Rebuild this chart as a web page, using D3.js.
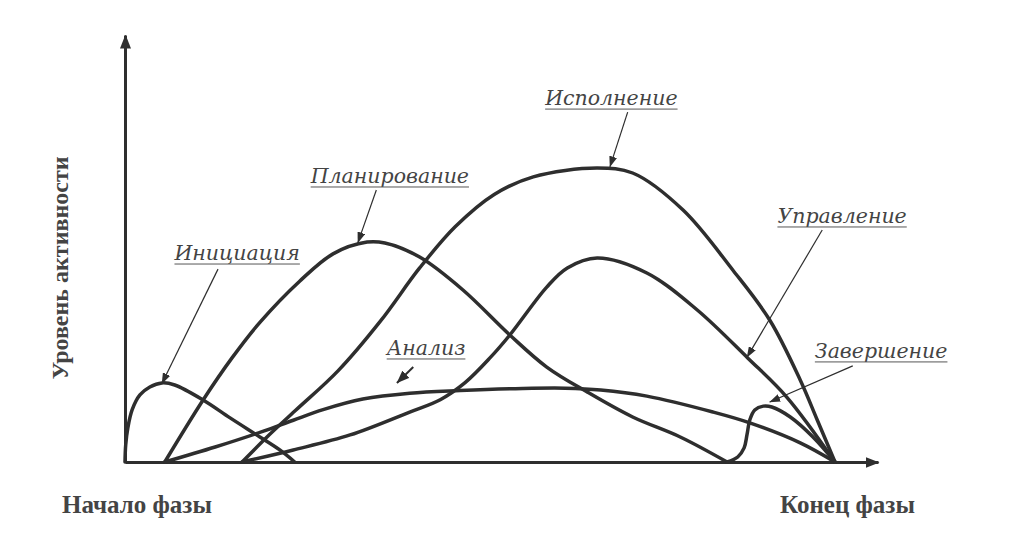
<!DOCTYPE html>
<html>
<head>
<meta charset="utf-8">
<script src="https://cdn.jsdelivr.net/npm/d3@7"></script>
<style>
    html, body { margin: 0; padding: 0; background: #fff; }
    svg { display: block; }
</style>
</head>
<body>
<script>
// Phase names (labels)
const phases = ['Инициация', 'Планирование', 'Анализ', 'Исполнение', 'Управление', 'Завершение'];

// Activity curves: [phase progress %, activity level]
const initiation = [[0, 0], [0.1, 5.8], [0.4, 11.6], [1.0, 17.7], [2.1, 22.8], [3.5, 25.5], [5.2, 26.9],
    [7.0, 26.2], [11.0, 21.1], [14.8, 15.0], [19.0, 8.5], [21.8, 4.1], [23.9, 0]];
const planning = [[5.6, 0], [11.0, 21.1], [15.1, 35.5], [19.0, 47.5], [24.6, 61.5], [29.3, 70.8], [34.1, 74.8],
    [36.6, 74.5], [41.5, 69.7], [47.6, 58.5], [54.2, 43.2], [59.4, 32.3], [65.1, 23.8], [71.5, 15.3], [78.2, 8.5], [84.8, 0]];
const analysis = [[5.6, 0], [12.7, 5.1], [19.4, 10.4], [23.7, 14.2], [27.9, 17.8], [33.5, 21.4], [40.1, 23.4],
    [47.2, 24.3], [56.0, 25.0], [62.0, 25.1], [67.0, 24.5], [73.5, 22.4], [82.8, 17.0], [88.0, 13.3], [95.1, 6.5], [100, 0]];
const execution = [[16.5, 0], [20.0, 8.5], [24.0, 17.5], [30.0, 31.0], [36.0, 48.0], [41.5, 66.0], [46.5, 80.0],
    [52.0, 91.0], [57.5, 97.0], [66.5, 100], [71.5, 98.3], [78.6, 85.7], [85.6, 65.3], [90.8, 48.3], [95.1, 27.9], [97.5, 14.3], [100, 0]];
const control = [[16.5, 0], [23.7, 4.1], [31.7, 9.2], [40.1, 17.0], [44.4, 21.2], [47.9, 27.0], [51.4, 35.4],
    [54.2, 43.2], [59.4, 59.5], [62.3, 66.0], [66.5, 69.4], [73.5, 64.3], [80.6, 51.7], [87.7, 35.4], [93.2, 22.1], [100, 0]];
const closing = [[84.8, 0], [86.3, 1.7], [87.2, 4.8], [87.6, 9.2], [88.0, 14.3], [88.7, 17.7], [89.9, 19.0],
    [91.1, 18.7], [93.7, 15.3], [96.9, 8.5], [100, 0]];

const series = [initiation, planning, analysis, execution, control, closing];

// Axis captions
const yTitle = 'Уровень активности';
const xStartLabel = 'Начало фазы';
const xEndLabel = 'Конец фазы';

// Callouts (in data units): label centre, arrow start, arrow tip
const callouts = [
    { label: [15.8, 68.7], from: [13.1, 65.6], to: [5.2, 26.7] },
    { label: [37.3, 94.9], from: [35.4, 92.5], to: [32.8, 74.6] },
    { label: [42.4, 36.4], from: [40.6, 32.3], to: [38.3, 26.9] },
    { label: [68.5, 121.4], from: [70.8, 119], to: [68.3, 100.4] },
    { label: [101.0, 81.3], from: [98.2, 78.9], to: [87.6, 35.6] },
    { label: [106.5, 35.4], from: [102.5, 32.7], to: [90.8, 20.4] }
];

const width = 1024;
const height = 558;
const ink = '#2e2e2e';

const xScale = d3.scaleLinear().domain([0, 100]).range([125, 835]);
const yScale = d3.scaleLinear().domain([0, 100]).range([462, 168]);

const svg = d3.select('body')
    .append('svg')
    .attr('width', width)
    .attr('height', height);

// Arrow heads
const defs = svg.append('defs');
defs.append('marker')
    .attr('id', 'axis-head')
    .attr('viewBox', '0 0 14 11')
    .attr('refX', 13).attr('refY', 5.5)
    .attr('markerWidth', 14).attr('markerHeight', 11)
    .attr('markerUnits', 'userSpaceOnUse')
    .attr('orient', 'auto')
    .append('path')
    .attr('d', 'M0,0 L14,5.5 L0,11 Z')
    .attr('fill', ink);
defs.append('marker')
    .attr('id', 'callout-head')
    .attr('viewBox', '0 0 11 8')
    .attr('refX', 10.5).attr('refY', 4)
    .attr('markerWidth', 11).attr('markerHeight', 8)
    .attr('markerUnits', 'userSpaceOnUse')
    .attr('orient', 'auto')
    .append('path')
    .attr('d', 'M0,0 L11,4 L0,8 Z')
    .attr('fill', ink);
defs.append('marker')
    .attr('id', 'callout-head-big')
    .attr('viewBox', '0 0 13 10')
    .attr('refX', 12.5).attr('refY', 5)
    .attr('markerWidth', 13).attr('markerHeight', 10)
    .attr('markerUnits', 'userSpaceOnUse')
    .attr('orient', 'auto')
    .append('path')
    .attr('d', 'M0,0 L13,5 L0,10 Z')
    .attr('fill', ink);

// Axes without ticks, stretched a bit past the data to the arrow tips
const xAxisScale = d3.scaleLinear().domain([0, xScale.invert(878)]).range([xScale(0), 878]);
const yAxisScale = d3.scaleLinear().domain([0, yScale.invert(35)]).range([yScale(0), 35]);

const xAxis = svg.append('g')
    .attr('transform', `translate(0,${yScale(0)})`)
    .call(d3.axisBottom(xAxisScale).tickValues([]).tickSizeOuter(0));
const yAxis = svg.append('g')
    .attr('transform', `translate(${xScale(0)},0)`)
    .call(d3.axisLeft(yAxisScale).tickValues([]).tickSizeOuter(0));

[xAxis, yAxis].forEach(g => g.select('.domain')
    .attr('stroke', ink)
    .attr('stroke-width', 3)
    .attr('marker-end', 'url(#axis-head)'));

// Curves
const line = d3.line()
    .x(d => xScale(d[0]))
    .y(d => yScale(d[1]))
    .curve(d3.curveCatmullRom.alpha(0.5));

svg.append('g')
    .selectAll('path')
    .data(series)
    .enter().append('path')
    .attr('d', line)
    .attr('fill', 'none')
    .attr('stroke', ink)
    .attr('stroke-width', 3.5)
    .attr('stroke-linejoin', 'round')
    .attr('stroke-linecap', 'round');

// Callout arrows and labels
const notes = svg.append('g');
callouts.forEach((c, i) => {
    notes.append('line')
        .attr('x1', xScale(c.from[0])).attr('y1', yScale(c.from[1]))
        .attr('x2', xScale(c.to[0])).attr('y2', yScale(c.to[1]))
        .attr('stroke', ink)
        .attr('stroke-width', i === 2 ? 2 : 1.2)
        .attr('marker-end', i === 2 ? 'url(#callout-head-big)' : 'url(#callout-head)');

    const t = notes.append('text')
        .attr('x', xScale(c.label[0]))
        .attr('y', yScale(c.label[1]))
        .attr('text-anchor', 'middle')
        .attr('font-family', '"DejaVu Serif", serif')
        .attr('font-style', 'italic')
        .attr('font-size', 20.5)
        .attr('fill', '#444')
        .text(phases[i]);

    const w = t.node().getComputedTextLength();
    notes.append('line')
        .attr('x1', xScale(c.label[0]) - w / 2)
        .attr('x2', xScale(c.label[0]) + w / 2)
        .attr('y1', yScale(c.label[1]) + 4)
        .attr('y2', yScale(c.label[1]) + 4)
        .attr('stroke', '#555')
        .attr('stroke-width', 1);
});

// Axis captions
const bold = sel => sel
    .attr('font-family', '"Liberation Serif", "Times New Roman", serif')
    .attr('font-weight', 'bold')
    .attr('fill', '#444');

svg.append('text')
    .call(bold)
    .attr('font-size', 24)
    .attr('text-anchor', 'middle')
    .attr('transform', 'translate(68,268) rotate(-90)')
    .text(yTitle);

svg.append('text')
    .call(bold)
    .attr('font-size', 25)
    .attr('x', 62).attr('y', 513)
    .text(xStartLabel);

svg.append('text')
    .call(bold)
    .attr('font-size', 25)
    .attr('x', 780).attr('y', 513)
    .text(xEndLabel);
</script>
</body>
</html>
